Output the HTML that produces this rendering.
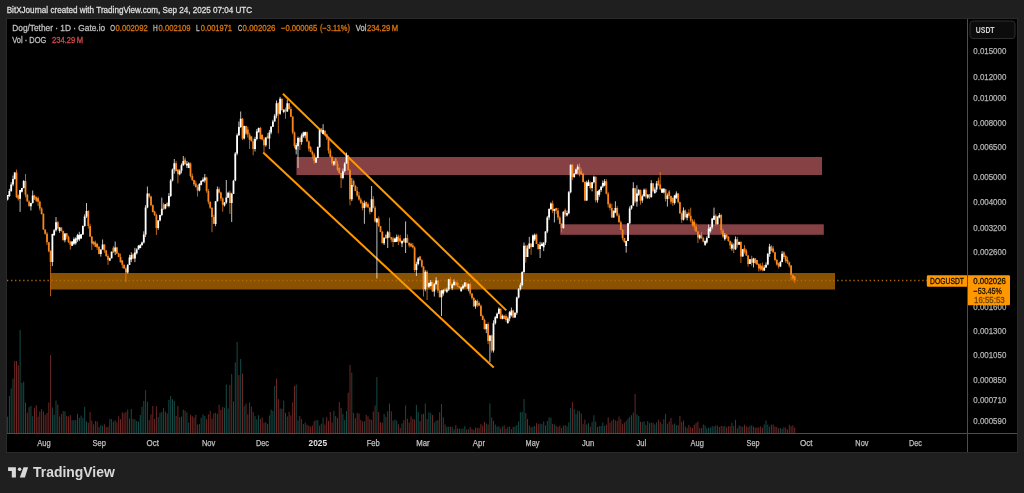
<!DOCTYPE html>
<html lang="en">
<head>
<meta charset="utf-8">
<title>DOGUSDT 1D chart - TradingView snapshot</title>
<style>
html,body{margin:0;padding:0;background:#1f1f1f;}
body{width:1024px;height:493px;overflow:hidden;position:relative;font-family:"Liberation Sans",sans-serif;color:#d8d8d8;}
.snapshot-header{position:absolute;left:0;top:0;width:1024px;height:19px;}
.snapshot-header svg{display:block}
.chart-frame{position:absolute;left:7px;top:19px;width:1010px;height:433px;background:#000;outline:1px solid #2a2a2a;}
.chart,.labels{display:block;position:absolute;left:0;top:0;}
.labels,.snapshot-header svg,.snapshot-footer svg{will-change:transform;}
.snapshot-footer{position:absolute;left:0;top:452px;width:1024px;height:41px;}
.snapshot-footer svg{display:block}
text{white-space:pre}
</style>
</head>
<body>
<header class="snapshot-header">
<svg width="1024" height="19" viewBox="0 0 1024 19"><text x="6.7" y="12.8" font-family="'Liberation Sans', sans-serif" font-size="8.4" fill="#dedede" stroke="#dedede" stroke-width="0.3" textLength="245.5" lengthAdjust="spacingAndGlyphs">BitXJournal created with TradingView.com, Sep 24, 2025 07:04 UTC</text></svg>
</header>
<main class="chart-frame">
<svg class="chart" width="1010" height="433" viewBox="7 19 1010 433">
<rect x="7" y="19" width="1010" height="433" fill="#000"/>
<g class="zones">
<rect x="296.5" y="157" width="525.5" height="18" fill="#854144"/>
<rect x="560.2" y="224.3" width="263.6" height="10.5" fill="#854144"/>
<rect x="51" y="273" width="784" height="16.5" fill="#8a5200"/>
</g>
<line x1="7" y1="280.5" x2="967" y2="280.5" stroke="#b06c05" stroke-width="1.3" stroke-dasharray="1.3 2.75"/>
<g class="volume" fill="none" stroke-width="1.0">
<path stroke="#164b47" d="M7.6 433V416.7M9.4 433V395.9M11.2 433V388.4M13 433V378.6M20.1 433V330M21.9 433V383M23.7 433V381.7M30.9 433V405.9M32.7 433V416.1M52.4 433V407.4M54.2 433V414.8M56 433V400.5M59.6 433V416.5M64.9 433V411.3M72.1 433V420.1M73.9 433V420.1M75.7 433V420.2M77.5 433V413.7M79.3 433V417.9M81.1 433V415.6M82.9 433V417.9M84.7 433V407M86.5 433V421.4M100.8 433V425M102.6 433V425.9M109.8 433V418.9M111.6 433V419.1M115.2 433V420.3M127.7 433V409.5M129.5 433V418.5M131.3 433V409M134.9 433V419.4M136.7 433V421M138.5 433V421.7M140.3 433V415M142 433V406.6M143.8 433V401M145.6 433V390M147.4 433V401.6M158.2 433V417.1M160 433V412.9M161.8 433V412.1M165.4 433V411.7M168.9 433V400M170.7 433V396M172.5 433V399.3M174.3 433V401M179.7 433V417.2M181.5 433V416.5M183.3 433V409.7M186.9 433V412.4M188.7 433V422.6M199.4 433V424.1M201.2 433V417.8M203 433V414.5M204.8 433V415.9M215.6 433V412.8M217.4 433V413.8M224.5 433V407.8M226.3 433V384.5M228.1 433V408.4M231.7 433V374M233.5 433V401.5M235.3 433V362.4M237.1 433V342M240.7 433V359M244.2 433V406.2M255 433V416.2M256.8 433V419.3M258.6 433V415.2M265.8 433V422.1M269.4 433V415.5M271.1 433V409.6M272.9 433V411M274.7 433V386M280.1 433V408.5M283.7 433V400.6M287.3 433V416.4M296.2 433V384.5M298 433V420.3M301.6 433V419.1M303.4 433V424M305.2 433V422.5M316 433V420.2M317.8 433V420.1M319.6 433V425.8M323.1 433V417.6M333.9 433V410.9M342.9 433V414.1M344.7 433V419.9M346.5 433V411.1M351.8 433V372.5M364.4 433V421.4M371.6 433V419.9M376.9 433V377M384.1 433V413.9M387.7 433V411.4M394.9 433V419.6M396.7 433V420.7M402 433V423.4M405.6 433V405.5M416.4 433V405M418.2 433V412.2M425.3 433V403.5M428.9 433V412.3M430.7 433V413.2M434.3 433V422.4M436.1 433V420.7M441.5 433V404M443.3 433V417.3M446.9 433V426.7M448.7 433V426.7M452.2 433V426.8M454 433V429.2M461.2 433V429M463 433V428.5M464.8 433V426.2M468.4 433V429.3M475.5 433V427.6M486.3 433V423.6M489.9 433V403.5M493.5 433V420.8M495.3 433V424.5M497.1 433V426.7M498.9 433V426.2M502.4 433V426.4M507.8 433V427.1M509.6 433V426.6M511.4 433V429.1M515 433V426.6M516.8 433V425.1M518.6 433V421.3M520.4 433V412.3M522.2 433V412.1M524 433V399M527.5 433V419M529.3 433V425.6M532.9 433V426.7M534.7 433V426.1M540.1 433V423.6M541.9 433V424.1M543.7 433V421.4M545.5 433V425.4M547.3 433V421M549.1 433V417.3M550.9 433V417.8M554.4 433V424.6M563.4 433V425.8M567 433V426.4M568.8 433V422.3M570.6 433V407.9M574.2 433V408.9M576 433V414M577.7 433V410.5M586.7 433V424.5M588.5 433V423.2M592.1 433V422.1M593.9 433V415.3M597.5 433V427M599.3 433V426.1M601.1 433V426M602.8 433V422.5M604.6 433V425.9M613.6 433V419.1M615.4 433V420.4M626.2 433V420.8M628 433V418.5M629.7 433V416.7M631.5 433V415.1M633.3 433V412.5M636.9 433V414.3M638.7 433V416.1M642.3 433V422.1M644.1 433V421.4M647.7 433V421M651.3 433V422.6M654.8 433V424.4M656.6 433V422.4M662 433V424.1M663.8 433V419.2M667.4 433V423.7M674.6 433V423.5M676.4 433V425.3M683.5 433V420.5M687.1 433V427.9M699.7 433V428.1M705.1 433V425.6M706.8 433V428.4M708.6 433V427.6M710.4 433V427.6M712.2 433V426.1M714 433V426.4M717.6 433V425.6M719.4 433V427M724.8 433V426.1M731.9 433V422.8M735.5 433V419.8M739.1 433V425.4M742.7 433V426.8M749.9 433V425.7M753.5 433V426.6M764.2 433V424.6M766 433V420.5M767.8 433V424.7M769.6 433V426.8M780.4 433V428.1M782.1 433V428.9"/>
<path stroke="#6d2826" d="M14.7 433V361M16.5 433V361M18.3 433V365.4M25.5 433V402.6M27.3 433V412.6M29.1 433V407.2M34.5 433V407.7M36.3 433V405.3M38.1 433V416.6M39.8 433V411.4M41.6 433V409.1M43.4 433V411.4M45.2 433V414.8M47 433V413M48.8 433V402.5M50.6 433V355M57.8 433V404.6M61.4 433V414.1M63.2 433V411.2M66.7 433V415.9M68.5 433V416.5M70.3 433V415.1M88.3 433V422.8M90.1 433V412.2M91.8 433V420.6M93.6 433V424.3M95.4 433V421.1M97.2 433V421.5M99 433V427.1M104.4 433V424.3M106.2 433V427.1M108 433V426.7M113.4 433V421.6M116.9 433V422.4M118.7 433V416.3M120.5 433V419.2M122.3 433V412.3M124.1 433V413.3M125.9 433V411.9M133.1 433V418.9M149.2 433V420.2M151 433V414.3M152.8 433V406M154.6 433V418.9M156.4 433V406.4M163.6 433V408M167.2 433V413.4M176.1 433V415.8M177.9 433V406M185.1 433V410.6M190.5 433V414.7M192.3 433V416.2M194 433V417.6M195.8 433V414.8M197.6 433V424.5M206.6 433V419.2M208.4 433V414.4M210.2 433V410.8M212 433V418.5M213.8 433V413.3M219.1 433V404.7M220.9 433V410M222.7 433V406.9M229.9 433V385.1M238.9 433V375M242.5 433V373.6M246 433V403.6M247.8 433V414.2M249.6 433V402.4M251.4 433V406.6M253.2 433V412M260.4 433V419M262.2 433V417.5M264 433V422.8M267.6 433V423.9M276.5 433V378.5M278.3 433V398.9M281.9 433V408.7M285.5 433V412.9M289.1 433V411.8M290.9 433V415.3M292.7 433V402.4M294.5 433V386M299.8 433V415.9M307 433V424.7M308.8 433V425.6M310.6 433V426.6M312.4 433V425.5M314.2 433V420.9M321.3 433V423.7M324.9 433V424.5M326.7 433V417.1M328.5 433V420.8M330.3 433V412M332.1 433V422.4M335.7 433V416M337.5 433V418M339.3 433V402M341.1 433V408.1M348.2 433V392.7M350 433V365M353.6 433V412.9M355.4 433V418.2M357.2 433V412.8M359 433V413.5M360.8 433V420M362.6 433V421.5M366.2 433V414.8M368 433V416.3M369.8 433V419M373.3 433V411.5M375.1 433V405.5M378.7 433V412M380.5 433V422.2M382.3 433V422.8M385.9 433V416.8M389.5 433V403.5M391.3 433V411.4M393.1 433V420.6M398.4 433V424.2M400.2 433V427.9M403.8 433V420.2M407.4 433V418.8M409.2 433V422.6M411 433V416.4M412.8 433V418.8M414.6 433V419.5M420 433V421.1M421.8 433V414.3M423.5 433V413.8M427.1 433V419M432.5 433V415M437.9 433V420.2M439.7 433V412.2M445.1 433V424.4M450.4 433V426.7M455.8 433V425M457.6 433V428.4M459.4 433V428.6M466.6 433V429.5M470.2 433V427M472 433V429M473.8 433V429.8M477.3 433V427.8M479.1 433V428.1M480.9 433V424.1M482.7 433V425.6M484.5 433V421.9M488.1 433V424.4M491.7 433V417.7M500.6 433V428.4M504.2 433V425.4M506 433V428.8M513.2 433V426.8M525.8 433V412.9M531.1 433V427.2M536.5 433V423.2M538.3 433V424.2M552.6 433V423.9M556.2 433V425.9M558 433V427M559.8 433V425.8M561.6 433V428.1M565.2 433V425.1M572.4 433V402M579.5 433V411.3M581.3 433V413.6M583.1 433V424.2M584.9 433V419.7M590.3 433V426.6M595.7 433V421.5M606.4 433V424.6M608.2 433V417.3M610 433V422.7M611.8 433V420.7M617.2 433V420.9M619 433V416.6M620.8 433V419.2M622.6 433V424.2M624.4 433V422.6M635.1 433V394M640.5 433V421.7M645.9 433V424.9M649.5 433V422.9M653.1 433V422.8M658.4 433V419.8M660.2 433V421.9M665.6 433V413.8M669.2 433V421.5M671 433V418M672.8 433V424.5M678.2 433V425.2M679.9 433V415.9M681.7 433V421.8M685.3 433V426.5M688.9 433V424.9M690.7 433V427.1M692.5 433V427.9M694.3 433V424.7M696.1 433V423M697.9 433V421.5M701.5 433V428M703.3 433V424.5M715.8 433V425.5M721.2 433V426.1M723 433V426.2M726.6 433V427.4M728.4 433V426.2M730.2 433V426.3M733.7 433V425.9M737.3 433V428.3M740.9 433V426.3M744.5 433V424.7M746.3 433V426.5M748.1 433V427.3M751.7 433V425.4M755.3 433V427.7M757 433V427.4M758.8 433V427.5M760.6 433V426.4M762.4 433V427.7M771.4 433V424.6M773.2 433V424.6M775 433V426.6M776.8 433V427M778.6 433V428.4M783.9 433V427.4M785.7 433V427.6M787.5 433V429.6M789.3 433V424.8M791.1 433V426.2M792.9 433V425.3M794.7 433V427.6"/>
</g>
<g class="trend" stroke="#ff9800" stroke-width="2" stroke-linecap="butt">
<line x1="282.9" y1="93.7" x2="506.3" y2="310.4"/>
<line x1="263.2" y1="152.5" x2="493.7" y2="367.6"/>
</g>
<g class="candles">
<path d="M16.5 169.6V198.1M18.3 194.4V200.5M25.5 174V197.3M27.3 193.8V201.5M29.1 200.3V206.4M34.5 194.8V200M36.3 196.4V202.1M38.1 196.5V205.9M39.8 200.5V210.6M41.6 207.2V214.6M43.4 213.4V229.9M45.2 229.5V234.8M47 232.1V245M48.8 242V252.3M50.6 250.2V296.3M57.8 221V229.6M61.4 227.5V231.7M63.2 230.6V240.4M66.7 233.2V239.2M68.5 235.7V243M70.3 240.8V249.7M88.3 210.2V228.5M90.1 223.7V237.1M91.8 236.4V250M93.6 241.4V245.3M95.4 240.7V247.1M97.2 242.9V249.9M99 246.4V254.4M104.4 244.3V252.9M106.2 249.9V257.1M108 254.2V264.9M113.4 246.1V252.7M116.9 246.8V254M118.7 252.6V257.2M120.5 253.6V262.5M122.3 260.2V268.2M124.1 264.7V268.6M125.9 267.3V282M133.1 253.1V259.2M149.2 193.4V198.4M151 195.8V206.3M152.8 204.5V212.5M154.6 210.7V216M156.4 213.6V235M163.6 202.8V209.4M167.2 202.1V206.7M176.1 160.9V171.2M177.9 169.3V183.4M185.1 157.4V164.7M190.5 162.5V177.5M192.3 173.5V180.9M194 179.9V186M195.8 180.7V187.7M197.6 185V196.6M206.6 176.8V192.7M208.4 189V204.3M210.2 201.6V209M212 207.4V232.2M213.8 214.6V223.9M219.1 187.2V193.5M220.9 191.6V201M222.7 197.3V211.7M229.9 190.7V214M242.5 118V140M246 125.8V135.1M247.8 126.7V137.6M249.6 132.8V149M251.4 136.1V141.4M253.2 138.7V155.3M260.4 126.8V139.5M262.2 134V140.3M264 137.3V152.6M267.6 133V138.5M278.3 102.1V133.4M281.9 98.6V110.7M285.5 107.5V118.8M289.1 103.2V109.7M290.9 106.5V116.7M292.7 116.5V134.3M294.5 131.4V148.3M299.8 137.3V150M307 131.6V141.6M308.8 140.3V151.4M310.6 145.9V152.4M312.4 150.5V158.4M314.2 153V163.7M321.3 128.3V132.1M324.9 130.4V135.2M326.7 133.5V140M328.5 136.6V153.6M330.3 148.3V157.6M332.1 155.7V165.4M335.7 157.9V165.6M337.5 160.9V171.3M339.3 167.3V173.9M341.1 173.1V188M348.2 155V170.6M350 168.9V205.3M353.6 179.5V187M355.4 184.8V191.2M357.2 186.9V197M359 192V200.6M360.8 197.6V204M362.6 201.3V210.3M366.2 201.5V207.6M368 202.7V207.6M369.8 207.4V214.3M373.3 196.2V208.4M375.1 206V222.6M378.7 216.4V227.2M380.5 225.8V232.2M382.3 230.9V243.3M385.9 234.2V238.8M389.5 217.7V237.8M391.3 236.9V242.2M393.1 236.7V247M398.4 234.7V245M400.2 234.9V242.7M403.8 238.7V242.7M407.4 234.4V242.8M409.2 242.6V247.4M411 242.7V246.8M412.8 243V248.5M414.6 246.2V272.3M420 255.9V260.7M421.8 259.1V267.7M423.5 266.1V296.5M427.1 270.5V300M432.5 282V291.7M437.9 280.2V292.9M439.7 289.1V297.3M445.1 287.8V291.6M450.4 277V285.4M455.8 281.4V285.5M457.6 281.9V287.2M459.4 286.1V288.4M466.6 282.4V287M470.2 282.5V295.6M472 293.3V299.7M473.8 297V307.1M477.3 299.4V307.1M479.1 301.4V306.3M480.9 304.5V316.4M482.7 314.8V320.1M484.5 318.6V329.4M488.1 322.3V344M491.7 334.6V352.6M500.6 308.5V319.1M504.2 315.2V319.1M506 314.2V321.9M513.2 309.8V317.9M525.8 244.8V262.6M531.1 243.4V254.8M536.5 233.6V244M538.3 243.8V249.1M552.6 200.7V212.9M556.2 207.7V213.9M558 208V219.9M559.8 215.7V224.3M561.6 223.6V232.4M565.2 208.5V216.8M572.4 163.8V179.9M579.5 163.4V176.4M581.3 168.6V174.8M583.1 172.9V182.5M584.9 181.2V201.2M590.3 181.5V189.6M595.7 176.5V202.4M606.4 179.1V194.4M608.2 192.1V207.5M610 202.6V210.3M611.8 203.7V217.7M617.2 206.2V216.5M619 213.3V222.5M620.8 220.7V230M622.6 229.1V240.4M624.4 238V242.9M635.1 187.8V203M640.5 189.5V204.7M645.9 188.3V198.5M649.5 194.2V199M653.1 183.3V192.2M658.4 177.6V186.2M660.2 172.1V190.2M665.6 188.9V201.6M669.2 190V199.1M671 195.7V204.2M672.8 197.3V205.8M678.2 193.3V203.4M679.9 201.7V213.4M681.7 212.3V222.8M685.3 209.5V218.3M688.9 209.2V217.8M690.7 207.6V222.5M692.5 218.9V226.6M694.3 219.5V230.6M696.1 223.2V231.9M697.9 231.1V243.1M701.5 232.2V238.8M703.3 236.8V242.4M715.8 214.2V225.7M721.2 214.1V233.8M723 228.7V237.8M726.6 233.8V238.7M728.4 235.9V241.7M730.2 240.5V249M733.7 243.2V253M737.3 236.9V247.6M740.9 241.2V263M744.5 245.1V253.5M746.3 248.9V255.9M748.1 254.9V266.6M751.7 255.7V265.7M755.3 258.2V264.1M757 260V264.9M758.8 263.2V271.5M760.6 263.3V270.6M762.4 262.5V271.3M771.4 245.1V251.4M773.2 246.2V253.1M775 251.8V261.4M776.8 258.8V265.6M778.6 262.6V268.4M783.9 251.3V258.9M785.7 254.8V262.9M787.5 256.7V264M789.3 261.6V267.5M791.1 265.1V280.3M792.9 274.7V280.3M794.7 276V283" stroke="#f6851b" stroke-width="0.75" fill="none"/>
<path d="M7.6 195V200.5M9.4 188.8V197M11.2 182.2V191.9M13 175.5V186.2M14.7 172.3V179.6M20.1 189.8V211.9M21.9 188.1V192.5M23.7 180V188.4M30.9 202.8V210.5M32.7 190.5V203.6M52.4 233.7V266.1M54.2 229V235.6M56 217V231.6M59.6 226.9V232.8M64.9 233.2V242.4M72.1 241.1V246M73.9 237.4V245.2M75.7 237.3V244.7M77.5 233.8V241.9M79.3 231.8V241.1M81.1 234.1V238.7M82.9 225.4V235M84.7 214.3V226.7M86.5 203V218M100.8 249.5V256.6M102.6 239.5V249.6M109.8 257.5V261.2M111.6 251.5V258.4M115.2 241.6V255.1M127.7 264.1V273.7M129.5 254.8V264.9M131.3 252.3V262.1M134.9 247.8V262.1M136.7 248.3V254.5M138.5 245V249.6M140.3 244V248.3M142 241.6V245.4M143.8 231.3V243.5M145.6 205.1V237.1M147.4 186.5V208.3M158.2 220V229.9M160 214.7V221.4M161.8 197.6V216.2M165.4 204V209.3M168.9 193.1V207.4M170.7 179V197M172.5 168.5V181.4M174.3 159V173.7M179.7 169.3V175.3M181.5 163.4V173.4M183.3 156V165.8M186.9 161V167.9M188.7 162V168.2M199.4 183.1V191.4M201.2 180.4V185.4M203 177.4V181.8M204.8 174V182.7M215.6 201.1V226.2M217.4 186.5V201.6M224.5 202.1V206.5M226.3 180V203.9M228.1 191.7V197.8M231.7 192.8V222M233.5 179.8V193.9M235.3 152.1V181.2M237.1 133.4V155.3M238.9 121.5V135.9M240.7 111.5V128M244.2 125.6V139.5M255 136.8V151.5M256.8 129.1V140.6M258.6 127.5V132.4M265.8 137.3V146.7M269.4 129.9V149M271.1 126.4V134.3M272.9 119.8V127.1M274.7 114V122.1M276.5 100.5V118.3M280.1 96.9V115M283.7 109.6V113.2M287.3 99.6V111.9M296.2 143.1V154.4M298 136.6V168M301.6 133.5V144.7M303.4 131.7V137.7M305.2 131.5V138.3M316 156.7V163M317.8 146.4V158.1M319.6 129.5V147.8M323.1 124.2V134.2M333.9 161V165.9M342.9 168.6V179.3M344.7 162.2V172.4M346.5 152.6V163.7M351.8 177.9V201.1M364.4 200.6V223.8M371.6 186V212.3M376.9 217.9V278.5M384.1 237.4V245M387.7 230.9V248M394.9 237.7V242.3M396.7 234.5V241.9M402 240.3V247.1M405.6 221.4V253M416.4 261.7V276M418.2 257.1V265.4M425.3 269.9V291.3M428.9 282.5V287.9M430.7 280V286.3M434.3 283V296.5M436.1 277.2V284.6M441.5 289.7V316M443.3 289.2V295.7M446.9 287.7V293.1M448.7 278.9V291.1M452.2 283.3V290.2M454 279.4V286.1M461.2 286.8V291.6M463 284.2V289.4M464.8 282.2V287.4M468.4 283.5V291.3M475.5 299.8V308.7M486.3 323.7V333.1M489.9 335.2V362M493.5 320.3V352.5M495.3 316V324.6M497.1 312.6V318.7M498.9 307.4V314.3M502.4 314.4V319.4M507.8 316.6V323.8M509.6 311V321.3M511.4 307.6V316.6M515 312.4V317.9M516.8 296.6V314.8M518.6 288.1V298.5M520.4 282.7V290.5M522.2 271.2V286.5M524 242.5V273.2M527.5 245.3V257.1M529.3 236.9V248.8M532.9 234.5V247.3M534.7 233.5V241M540.1 241.8V258M541.9 242.2V246.2M543.7 242.4V251.1M545.5 231.1V245M547.3 215.9V233.1M549.1 208.3V220M550.9 202.3V210M554.4 208.7V222.4M563.4 211.3V228.8M567 210.6V216.5M568.8 191V214.4M570.6 164.6V193.3M574.2 173V177.9M576 168.6V173.8M577.7 164.5V173.7M586.7 180.8V200.9M588.5 179.6V186M592.1 182.1V191.4M593.9 175.6V183.5M597.5 190.9V202.7M599.3 189V196.8M601.1 185.8V192.1M602.8 180.5V188M604.6 179V186.3M613.6 210.3V217.7M615.4 201.3V213.2M626.2 240.6V252.6M628 223V241.1M629.7 206.4V224.4M631.5 205.3V209.7M633.3 182.2V206.1M636.9 185.3V206.6M638.7 188.9V196M642.3 194.4V202.9M644.1 188.5V196.6M647.7 194V198.8M651.3 180.2V197.4M654.8 187.4V193.9M656.6 181.1V192.3M662 188.5V192.7M663.8 188.6V193.4M667.4 193.4V206.6M674.6 194.9V204.7M676.4 191.4V199M683.5 207.4V220.6M687.1 212.4V220.3M699.7 234.3V239.4M705.1 240.4V245.9M706.8 236.4V243.6M708.6 224.5V238.1M710.4 226.8V232.6M712.2 217.9V229.2M714 207.6V220.1M717.6 216.6V224.5M719.4 213V218.4M724.8 233.1V240.6M731.9 242.3V250.6M735.5 236.5V250M739.1 241.6V244.9M742.7 249V256.7M749.9 259.1V263.9M753.5 257.8V267.5M764.2 265.1V270.9M766 262.4V267.8M767.8 252.8V265.3M769.6 243.8V256.8M780.4 260.7V267.1M782.1 251.1V262.3" stroke="#ffffff" stroke-width="0.75" fill="none"/>
<path d="M15.6 172.5h1.8v24.3h-1.8zM17.4 195.4h1.8v3.3h-1.8zM24.6 181h1.8v13.8h-1.8zM26.4 194.8h1.8v6.7h-1.8zM28.2 201.5h1.8v4.7h-1.8zM33.6 195.5h1.8v2.9h-1.8zM35.4 197.2h1.8v3.5h-1.8zM37.2 198.2h1.8v3.5h-1.8zM38.9 201.7h1.8v6.7h-1.8zM40.7 208.5h1.8v5.4h-1.8zM42.5 213.8h1.8v15.7h-1.8zM44.3 229.5h1.8v4.3h-1.8zM46.1 233.8h1.8v8.4h-1.8zM47.9 242.3h1.8v8.9h-1.8zM49.7 251.1h1.8v10.9h-1.8zM56.9 222.3h1.8v6.1h-1.8zM60.5 227.5h1.8v3.4h-1.8zM62.3 231h1.8v9.3h-1.8zM65.8 233.2h1.8v3.6h-1.8zM67.6 236.8h1.8v5.1h-1.8zM69.4 241.7h1.8v2.9h-1.8zM87.4 211h1.8v15h-1.8zM89.2 226h1.8v10.6h-1.8zM90.9 236.5h1.8v7.1h-1.8zM92.7 241.5h1.8v2.7h-1.8zM94.5 242.5h1.8v4.3h-1.8zM96.3 244h1.8v3.4h-1.8zM98.1 246.8h1.8v7.2h-1.8zM103.5 244.6h1.8v5.9h-1.8zM105.3 250.5h1.8v5.4h-1.8zM107.1 255.9h1.8v3.9h-1.8zM112.5 247.8h1.8v4.6h-1.8zM116 247.6h1.8v6h-1.8zM117.8 253.4h1.8v3.6h-1.8zM119.6 257h1.8v5.3h-1.8zM121.4 260.6h1.8v4.2h-1.8zM123.2 264.8h1.8v3.7h-1.8zM125 268.6h1.8v3.9h-1.8zM132.2 254.2h1.8v4.2h-1.8zM148.3 193.6h1.8v3h-1.8zM150.1 196.6h1.8v8.6h-1.8zM151.9 205.3h1.8v6.8h-1.8zM153.7 211.5h1.8v3.4h-1.8zM155.5 214.9h1.8v13.1h-1.8zM162.7 204.5h1.8v4.9h-1.8zM166.3 203.1h1.8v3h-1.8zM175.2 163.2h1.8v8h-1.8zM177 169.6h1.8v4.7h-1.8zM184.2 159.5h1.8v4.8h-1.8zM189.6 163.6h1.8v12.3h-1.8zM191.4 175.9h1.8v4.1h-1.8zM193.1 180h1.8v4.2h-1.8zM194.9 183.4h1.8v3.7h-1.8zM196.7 187h1.8v3.5h-1.8zM205.7 177.4h1.8v13.6h-1.8zM207.5 191h1.8v10.7h-1.8zM209.3 201.7h1.8v6h-1.8zM211.1 207.8h1.8v9.2h-1.8zM212.9 217h1.8v6.8h-1.8zM218.2 189.3h1.8v3.1h-1.8zM220 192.4h1.8v6.2h-1.8zM221.8 198.5h1.8v6.3h-1.8zM229 192.7h1.8v10.3h-1.8zM241.6 118.8h1.8v19.8h-1.8zM245.1 126.1h1.8v7.5h-1.8zM246.9 129.6h1.8v5h-1.8zM248.7 134.7h1.8v5.1h-1.8zM250.5 136.6h1.8v4.6h-1.8zM252.3 141.2h1.8v7.7h-1.8zM259.5 127.9h1.8v11h-1.8zM261.3 135.1h1.8v4.3h-1.8zM263.1 139.5h1.8v5.8h-1.8zM266.7 135.7h1.8v2.7h-1.8zM277.4 103.3h1.8v10.5h-1.8zM281 98.7h1.8v11.4h-1.8zM284.6 109.5h1.8v2h-1.8zM288.2 103.3h1.8v5.8h-1.8zM290 109.1h1.8v7.6h-1.8zM291.8 116.6h1.8v16h-1.8zM293.6 132.6h1.8v13.3h-1.8zM298.9 137.7h1.8v4.3h-1.8zM306.1 132.3h1.8v9.2h-1.8zM307.9 141.5h1.8v7.1h-1.8zM309.7 147.2h1.8v4.9h-1.8zM311.5 152.1h1.8v2.3h-1.8zM313.3 154.4h1.8v6.3h-1.8zM320.4 128.6h1.8v2.3h-1.8zM324 130.8h1.8v3.5h-1.8zM325.8 134.3h1.8v3h-1.8zM327.6 137.3h1.8v13.2h-1.8zM329.4 150.5h1.8v6.4h-1.8zM331.2 156.9h1.8v6.3h-1.8zM334.8 158.6h1.8v5h-1.8zM336.6 163.7h1.8v6h-1.8zM338.4 167.9h1.8v5.2h-1.8zM340.2 173.1h1.8v4.8h-1.8zM347.3 155.6h1.8v14.6h-1.8zM349.1 170.2h1.8v29h-1.8zM352.7 180.9h1.8v4.9h-1.8zM354.5 185.9h1.8v5.1h-1.8zM356.3 190.9h1.8v4.5h-1.8zM358.1 195.5h1.8v3.9h-1.8zM359.9 199.4h1.8v3.3h-1.8zM361.7 202.8h1.8v5.2h-1.8zM365.3 202h1.8v4.6h-1.8zM367.1 204.3h1.8v3.2h-1.8zM368.9 207.4h1.8v4.3h-1.8zM372.4 199.2h1.8v8.5h-1.8zM374.2 207.7h1.8v13.8h-1.8zM377.8 218.5h1.8v7.6h-1.8zM379.6 226.1h1.8v6h-1.8zM381.4 232.1h1.8v11.2h-1.8zM385 234.9h1.8v3.4h-1.8zM388.6 232.3h1.8v4.9h-1.8zM390.4 237.2h1.8v2.2h-1.8zM392.2 238.5h1.8v3.5h-1.8zM397.5 236.2h1.8v4.6h-1.8zM399.3 238.3h1.8v3.5h-1.8zM402.9 238.7h1.8v3h-1.8zM406.5 238h1.8v4.8h-1.8zM408.3 242.8h1.8v2.8h-1.8zM410.1 243.7h1.8v2.9h-1.8zM411.9 245.2h1.8v2.3h-1.8zM413.7 247.5h1.8v22.4h-1.8zM419.1 256.4h1.8v3.8h-1.8zM420.9 260.2h1.8v6.4h-1.8zM422.6 266.6h1.8v22.6h-1.8zM426.2 271.7h1.8v15.1h-1.8zM431.6 282.1h1.8v9.5h-1.8zM437 280.6h1.8v10h-1.8zM438.8 290.6h1.8v6.7h-1.8zM444.2 288.9h1.8v2.3h-1.8zM449.5 279.2h1.8v6h-1.8zM454.9 281.8h1.8v3.4h-1.8zM456.7 282.9h1.8v3.6h-1.8zM458.5 286.1h1.8v2h-1.8zM465.7 282.5h1.8v3.9h-1.8zM469.3 284h1.8v9.4h-1.8zM471.1 293.4h1.8v4.5h-1.8zM472.9 297.9h1.8v8.4h-1.8zM476.4 300.8h1.8v4.2h-1.8zM478.2 303h1.8v2.7h-1.8zM480 305.7h1.8v10.4h-1.8zM481.8 315.9h1.8v4h-1.8zM483.6 319.9h1.8v9.4h-1.8zM487.2 323.9h1.8v17.2h-1.8zM490.8 335.4h1.8v15h-1.8zM499.7 308.7h1.8v10.1h-1.8zM503.3 315.7h1.8v3.3h-1.8zM505.1 315.9h1.8v4.2h-1.8zM512.3 310.5h1.8v7.1h-1.8zM524.9 245.8h1.8v11.2h-1.8zM530.2 243.6h1.8v3.4h-1.8zM535.6 234.7h1.8v9.3h-1.8zM537.4 244h1.8v5.2h-1.8zM551.7 203.4h1.8v7.4h-1.8zM555.3 207.9h1.8v2.5h-1.8zM557.1 210.4h1.8v7.2h-1.8zM558.9 217.6h1.8v6.2h-1.8zM560.7 223.6h1.8v4.4h-1.8zM564.3 209.9h1.8v4.7h-1.8zM571.5 164.7h1.8v12.2h-1.8zM578.6 166.7h1.8v7.2h-1.8zM580.4 171.4h1.8v3.1h-1.8zM582.2 173.8h1.8v8.3h-1.8zM584 182.1h1.8v18.4h-1.8zM589.4 182.9h1.8v5h-1.8zM594.8 176.8h1.8v23.4h-1.8zM605.5 181.2h1.8v12.5h-1.8zM607.3 193.7h1.8v10.5h-1.8zM609.1 204.2h1.8v3.9h-1.8zM610.9 208h1.8v9.4h-1.8zM616.3 208h1.8v7.6h-1.8zM618.1 215.6h1.8v6.7h-1.8zM619.9 222.3h1.8v7.4h-1.8zM621.7 229.7h1.8v8.3h-1.8zM623.5 238.1h1.8v4h-1.8zM634.2 188.3h1.8v13.2h-1.8zM639.6 190.1h1.8v10.6h-1.8zM645 189.8h1.8v6.6h-1.8zM648.6 194.2h1.8v3.1h-1.8zM652.2 183.3h1.8v7.5h-1.8zM657.5 180.4h1.8v4.7h-1.8zM659.3 184.4h1.8v4.9h-1.8zM664.7 189.2h1.8v9.6h-1.8zM668.3 191.6h1.8v4.5h-1.8zM670.1 196.1h1.8v5.7h-1.8zM671.9 198h1.8v4.8h-1.8zM677.3 193.4h1.8v8.8h-1.8zM679 202.2h1.8v11.2h-1.8zM680.8 213.4h1.8v6.4h-1.8zM684.4 210.5h1.8v6.4h-1.8zM688 212.7h1.8v3.1h-1.8zM689.8 215.8h1.8v5h-1.8zM691.6 220.8h1.8v4.3h-1.8zM693.4 221.7h1.8v5h-1.8zM695.2 226.6h1.8v4.9h-1.8zM697 231.6h1.8v5.9h-1.8zM700.6 234.9h1.8v3.4h-1.8zM702.4 238.3h1.8v3.4h-1.8zM714.9 215.7h1.8v8.6h-1.8zM720.3 214.9h1.8v15.4h-1.8zM722.1 230.4h1.8v6h-1.8zM725.7 234.7h1.8v2.5h-1.8zM727.5 236.7h1.8v4.4h-1.8zM729.3 241.1h1.8v4.4h-1.8zM732.8 244.4h1.8v4.9h-1.8zM736.4 239.2h1.8v5.5h-1.8zM740 242h1.8v14.6h-1.8zM743.6 248.3h1.8v3.1h-1.8zM745.4 250.5h1.8v5.1h-1.8zM747.2 255.6h1.8v8.3h-1.8zM750.8 258.7h1.8v4.1h-1.8zM754.4 258.4h1.8v4.5h-1.8zM756.1 260.1h1.8v4.3h-1.8zM757.9 264h1.8v4.4h-1.8zM759.7 265.2h1.8v4.3h-1.8zM761.5 266.1h1.8v4.2h-1.8zM770.5 246.5h1.8v4.3h-1.8zM772.3 248.5h1.8v3.8h-1.8zM774.1 252.2h1.8v7.7h-1.8zM775.9 259.9h1.8v4.5h-1.8zM777.7 263.5h1.8v3.1h-1.8zM783 252.4h1.8v4.6h-1.8zM784.8 255.9h1.8v5.1h-1.8zM786.6 259.7h1.8v2.8h-1.8zM788.4 262.5h1.8v3.1h-1.8zM790.2 265.6h1.8v9.2h-1.8zM792 274.8h1.8v3.8h-1.8zM793.8 276.5h1.8v3.8h-1.8z" fill="#f6851b"/>
<path d="M6.7 195h1.8v4.6h-1.8zM8.5 191h1.8v4.9h-1.8zM10.3 184.5h1.8v6.5h-1.8zM12.1 178.9h1.8v5.6h-1.8zM13.8 172.5h1.8v6.4h-1.8zM19.2 189.9h1.8v8.9h-1.8zM21 188.1h1.8v3.6h-1.8zM22.8 181h1.8v7.1h-1.8zM30 203h1.8v3.2h-1.8zM31.8 195.5h1.8v7.5h-1.8zM51.5 234h1.8v28h-1.8zM53.3 230.2h1.8v5.1h-1.8zM55.1 222.3h1.8v7.9h-1.8zM58.7 227.5h1.8v3.5h-1.8zM64 233.4h1.8v6.9h-1.8zM71.2 241.4h1.8v4.3h-1.8zM73 239.2h1.8v4.6h-1.8zM74.8 238.6h1.8v4.6h-1.8zM76.6 235.3h1.8v4.1h-1.8zM78.4 234.8h1.8v4.6h-1.8zM80.2 234.2h1.8v4.2h-1.8zM82 225.9h1.8v8.5h-1.8zM83.8 216.4h1.8v9.6h-1.8zM85.6 211h1.8v5.4h-1.8zM99.9 249.5h1.8v4.4h-1.8zM101.7 244.6h1.8v4.9h-1.8zM108.9 258.3h1.8v2.2h-1.8zM110.7 251.8h1.8v6.5h-1.8zM114.3 247.6h1.8v3.8h-1.8zM126.8 264.9h1.8v7.6h-1.8zM128.6 257.5h1.8v7.4h-1.8zM130.4 254.9h1.8v4.7h-1.8zM134 252.4h1.8v6.1h-1.8zM135.8 249.4h1.8v3.8h-1.8zM137.6 245.7h1.8v3.7h-1.8zM139.4 245.1h1.8v2.8h-1.8zM141.1 242.6h1.8v2.7h-1.8zM142.9 234.5h1.8v8h-1.8zM144.7 207.5h1.8v27h-1.8zM146.5 193.6h1.8v13.9h-1.8zM157.3 220.6h1.8v7.4h-1.8zM159.1 215.1h1.8v5.5h-1.8zM160.9 208.8h1.8v6.3h-1.8zM164.5 204.3h1.8v4.3h-1.8zM168 196.1h1.8v9.9h-1.8zM169.8 180.4h1.8v15.7h-1.8zM171.6 169.6h1.8v10.8h-1.8zM173.4 163.2h1.8v6.4h-1.8zM178.8 170.7h1.8v3.6h-1.8zM180.6 165.3h1.8v5.4h-1.8zM182.4 161.1h1.8v4.2h-1.8zM186 163.8h1.8v1.8h-1.8zM187.8 163.2h1.8v4.7h-1.8zM198.5 183.9h1.8v6.6h-1.8zM200.3 180.7h1.8v4h-1.8zM202.1 179.4h1.8v2h-1.8zM203.9 177.4h1.8v3.1h-1.8zM214.7 201.2h1.8v22.7h-1.8zM216.5 189.3h1.8v11.9h-1.8zM223.6 202.6h1.8v2.9h-1.8zM225.4 197.5h1.8v5.1h-1.8zM227.2 192.7h1.8v5h-1.8zM230.8 193.8h1.8v9.2h-1.8zM232.6 180.7h1.8v13.1h-1.8zM234.4 153.5h1.8v27.1h-1.8zM236.2 135.3h1.8v18.2h-1.8zM238 127h1.8v8.3h-1.8zM239.8 118.8h1.8v8.2h-1.8zM243.3 126.1h1.8v12.5h-1.8zM254.1 139h1.8v9.9h-1.8zM255.9 131.6h1.8v7.4h-1.8zM257.7 127.9h1.8v4.4h-1.8zM264.9 137.6h1.8v7.7h-1.8zM268.5 132.5h1.8v5.9h-1.8zM270.2 126.6h1.8v5.9h-1.8zM272 121.4h1.8v5.3h-1.8zM273.8 115.7h1.8v5.6h-1.8zM275.6 103.3h1.8v12.4h-1.8zM279.2 98.7h1.8v15h-1.8zM282.8 109.6h1.8v2.5h-1.8zM286.4 103.3h1.8v8.2h-1.8zM295.3 145.3h1.8v4.1h-1.8zM297.1 138h1.8v8.2h-1.8zM300.7 135.4h1.8v6.6h-1.8zM302.5 132.5h1.8v3.8h-1.8zM304.3 131.9h1.8v3.5h-1.8zM315.1 157.9h1.8v4.7h-1.8zM316.9 147.1h1.8v10.8h-1.8zM318.7 130.3h1.8v16.8h-1.8zM322.2 130h1.8v4h-1.8zM333 161.3h1.8v3.2h-1.8zM342 171.2h1.8v6.7h-1.8zM343.8 163.5h1.8v7.6h-1.8zM345.6 155.6h1.8v7.9h-1.8zM350.9 185h1.8v14.2h-1.8zM363.5 203.2h1.8v4.8h-1.8zM370.7 199.2h1.8v12.5h-1.8zM376 218.5h1.8v3.9h-1.8zM383.2 237.7h1.8v5.5h-1.8zM386.8 232.3h1.8v5.6h-1.8zM394 238.5h1.8v3.5h-1.8zM395.8 237.1h1.8v4.7h-1.8zM401.1 241.1h1.8v2.4h-1.8zM404.7 238h1.8v4.8h-1.8zM415.5 263.9h1.8v6h-1.8zM417.3 258.5h1.8v5.4h-1.8zM424.4 271.7h1.8v17.5h-1.8zM428 283h1.8v3.8h-1.8zM429.8 282.1h1.8v4h-1.8zM433.4 284.3h1.8v7.3h-1.8zM435.2 280.6h1.8v3.7h-1.8zM440.6 290.4h1.8v6.9h-1.8zM442.4 289.8h1.8v3.8h-1.8zM446 289.5h1.8v2.3h-1.8zM447.8 279.2h1.8v10.3h-1.8zM451.3 284.6h1.8v3.7h-1.8zM453.1 281.8h1.8v3.3h-1.8zM460.3 287.6h1.8v3.7h-1.8zM462.1 285.7h1.8v2.5h-1.8zM463.9 282.5h1.8v4h-1.8zM467.5 284h1.8v4.8h-1.8zM474.6 301.1h1.8v5.2h-1.8zM485.4 323.9h1.8v5.4h-1.8zM489 335.4h1.8v5.7h-1.8zM492.6 323.3h1.8v27.1h-1.8zM494.4 317.2h1.8v6.1h-1.8zM496.2 313.8h1.8v4.3h-1.8zM498 308.7h1.8v5.1h-1.8zM501.5 315.7h1.8v3.1h-1.8zM506.9 318.6h1.8v4.3h-1.8zM508.7 312.2h1.8v6.4h-1.8zM510.5 310.5h1.8v4.8h-1.8zM514.1 312.7h1.8v4.9h-1.8zM515.9 297.5h1.8v15.2h-1.8zM517.7 289h1.8v8.5h-1.8zM519.5 284.9h1.8v4h-1.8zM521.3 271.9h1.8v13h-1.8zM523.1 245.8h1.8v26.1h-1.8zM526.6 248.5h1.8v8.5h-1.8zM528.4 243.6h1.8v4.9h-1.8zM532 235.6h1.8v11.4h-1.8zM533.8 234.7h1.8v4.7h-1.8zM539.2 244.7h1.8v4.4h-1.8zM541 243.7h1.8v2.4h-1.8zM542.8 242.6h1.8v4.6h-1.8zM544.6 231.6h1.8v11h-1.8zM546.4 217.6h1.8v14h-1.8zM548.2 208.9h1.8v8.7h-1.8zM550 203.4h1.8v5.5h-1.8zM553.5 209h1.8v2.1h-1.8zM562.5 211.7h1.8v16.3h-1.8zM566.1 213.1h1.8v2.4h-1.8zM567.9 192.3h1.8v20.9h-1.8zM569.7 164.7h1.8v27.6h-1.8zM573.3 173.7h1.8v3.2h-1.8zM575.1 169.5h1.8v4.2h-1.8zM576.8 166.7h1.8v2.9h-1.8zM585.8 182.4h1.8v18.1h-1.8zM587.6 181.8h1.8v4.2h-1.8zM591.2 182.3h1.8v5.6h-1.8zM593 176.8h1.8v5.5h-1.8zM596.6 191.3h1.8v8.9h-1.8zM598.4 190h1.8v4.7h-1.8zM600.2 186.7h1.8v3.4h-1.8zM601.9 182.9h1.8v3.7h-1.8zM603.7 181.2h1.8v4.2h-1.8zM612.7 211.2h1.8v6.2h-1.8zM614.5 208h1.8v4.5h-1.8zM625.3 240.9h1.8v5.1h-1.8zM627.1 223.2h1.8v17.7h-1.8zM628.8 208.6h1.8v14.6h-1.8zM630.6 205.4h1.8v3.2h-1.8zM632.4 188.3h1.8v17.1h-1.8zM636 193.4h1.8v8.1h-1.8zM637.8 190.1h1.8v4.6h-1.8zM641.4 196.3h1.8v4.3h-1.8zM643.2 189.8h1.8v6.5h-1.8zM646.8 194.8h1.8v3h-1.8zM650.4 183.3h1.8v14h-1.8zM653.9 189.5h1.8v3.4h-1.8zM655.7 183.5h1.8v6h-1.8zM661.1 188.7h1.8v4h-1.8zM662.9 188.6h1.8v4h-1.8zM666.5 195.4h1.8v3.5h-1.8zM673.7 195.6h1.8v7.3h-1.8zM675.5 193.4h1.8v4.3h-1.8zM682.6 210.5h1.8v9.3h-1.8zM686.2 214h1.8v3.7h-1.8zM698.8 235.3h1.8v3h-1.8zM704.2 241h1.8v3.7h-1.8zM705.9 237.9h1.8v4.6h-1.8zM707.7 228.8h1.8v9.1h-1.8zM709.5 227.2h1.8v4h-1.8zM711.3 218.5h1.8v8.7h-1.8zM713.1 215.7h1.8v4h-1.8zM716.7 216.6h1.8v7.7h-1.8zM718.5 214.9h1.8v2.4h-1.8zM723.9 235.1h1.8v4.2h-1.8zM731 244.4h1.8v4h-1.8zM734.6 239.2h1.8v10.1h-1.8zM738.2 242h1.8v2.7h-1.8zM741.8 249.2h1.8v7.4h-1.8zM749 259.3h1.8v4.6h-1.8zM752.6 258.4h1.8v4.4h-1.8zM763.3 267.6h1.8v2.8h-1.8zM765.1 264.7h1.8v2.9h-1.8zM766.9 254h1.8v10.6h-1.8zM768.7 246.5h1.8v7.5h-1.8zM779.5 261.9h1.8v4.7h-1.8zM781.2 253.8h1.8v8.1h-1.8z" fill="#ffffff"/>
</g>
<g class="axes" stroke="#784600" stroke-width="1">
<line x1="7" y1="433.5" x2="1017" y2="433.5"/>
<line x1="967.5" y1="19" x2="967.5" y2="452"/>
</g>
</svg>
<svg class="labels" width="1010" height="433" viewBox="7 19 1010 433">
<g class="price-scale" font-family="'Liberation Sans', sans-serif" font-size="8.7" fill="#b4b4b4" stroke="#b4b4b4" stroke-width="0.25">
<text x="973.3" y="54.3" textLength="33" lengthAdjust="spacingAndGlyphs">0.015000</text>
<text x="973.3" y="79.8" textLength="33" lengthAdjust="spacingAndGlyphs">0.012000</text>
<text x="973.3" y="100.7" textLength="33" lengthAdjust="spacingAndGlyphs">0.010000</text>
<text x="973.3" y="126.2" textLength="33" lengthAdjust="spacingAndGlyphs">0.008000</text>
<text x="973.3" y="149.9" textLength="33" lengthAdjust="spacingAndGlyphs">0.006500</text>
<text x="973.3" y="179.9" textLength="33" lengthAdjust="spacingAndGlyphs">0.005000</text>
<text x="973.3" y="205.4" textLength="33" lengthAdjust="spacingAndGlyphs">0.004000</text>
<text x="973.3" y="231" textLength="33" lengthAdjust="spacingAndGlyphs">0.003200</text>
<text x="973.3" y="254.7" textLength="33" lengthAdjust="spacingAndGlyphs">0.002600</text>
<text x="973.3" y="310.2" textLength="33" lengthAdjust="spacingAndGlyphs">0.001600</text>
<text x="973.3" y="334" textLength="33" lengthAdjust="spacingAndGlyphs">0.001300</text>
<text x="973.3" y="358.4" textLength="33" lengthAdjust="spacingAndGlyphs">0.001050</text>
<text x="973.3" y="382.5" textLength="33" lengthAdjust="spacingAndGlyphs">0.000850</text>
<text x="973.3" y="403.1" textLength="33" lengthAdjust="spacingAndGlyphs">0.000710</text>
<text x="973.3" y="424.3" textLength="33" lengthAdjust="spacingAndGlyphs">0.000590</text>
</g>
<g class="time-scale" font-family="'Liberation Sans', sans-serif" font-size="8.7" fill="#c0c0c0" stroke="#c0c0c0" stroke-width="0.25" text-anchor="middle">
<text x="43.9" y="445.8" textLength="13.4" lengthAdjust="spacingAndGlyphs">Aug</text>
<text x="99.2" y="445.8" textLength="13.4" lengthAdjust="spacingAndGlyphs">Sep</text>
<text x="152.8" y="445.8" textLength="12.4" lengthAdjust="spacingAndGlyphs">Oct</text>
<text x="208.6" y="445.8" textLength="13.4" lengthAdjust="spacingAndGlyphs">Nov</text>
<text x="262.5" y="445.8" textLength="13.1" lengthAdjust="spacingAndGlyphs">Dec</text>
<text x="317.8" y="445.8" font-weight="bold" fill="#e0e0e0" stroke="none" textLength="18.5" lengthAdjust="spacingAndGlyphs">2025</text>
<text x="373.2" y="445.8" textLength="13.1" lengthAdjust="spacingAndGlyphs">Feb</text>
<text x="423" y="445.8" textLength="13.4" lengthAdjust="spacingAndGlyphs">Mar</text>
<text x="478.9" y="445.8" textLength="12.2" lengthAdjust="spacingAndGlyphs">Apr</text>
<text x="532.5" y="445.8" textLength="13.8" lengthAdjust="spacingAndGlyphs">May</text>
<text x="588" y="445.8" textLength="12.2" lengthAdjust="spacingAndGlyphs">Jun</text>
<text x="641.4" y="445.8" textLength="9.7" lengthAdjust="spacingAndGlyphs">Jul</text>
<text x="697.2" y="445.8" textLength="13.2" lengthAdjust="spacingAndGlyphs">Aug</text>
<text x="753" y="445.8" textLength="12.8" lengthAdjust="spacingAndGlyphs">Sep</text>
<text x="806.3" y="445.8" textLength="12.5" lengthAdjust="spacingAndGlyphs">Oct</text>
<text x="861.9" y="445.8" textLength="13.1" lengthAdjust="spacingAndGlyphs">Nov</text>
<text x="915.5" y="445.8" textLength="12.8" lengthAdjust="spacingAndGlyphs">Dec</text>
</g>
<g class="currency">
<rect x="970" y="21" width="45" height="17.5" rx="3" fill="#0c0c0c" stroke="#2c2c2c" stroke-width="1"/>
<text x="975.8" y="33.2" font-family="'Liberation Sans', sans-serif" font-size="8.6" font-weight="bold" fill="#d6d6d6" textLength="18.8" lengthAdjust="spacingAndGlyphs">USDT</text>
</g>
<g class="last-price" font-family="'Liberation Sans', sans-serif" font-size="8.5" stroke-width="0.3">
<path d="M928 275.2H967V286.7H928a1.2 1.2 0 0 1-1.2-1.2V276.4a1.2 1.2 0 0 1 1.2-1.2z" fill="#ff9800"/>
<path d="M968 275.2H1008.8a1.2 1.2 0 0 1 1.2 1.2V304a1.2 1.2 0 0 1-1.2 1.2H968z" fill="#ff9800"/>
<text x="930.1" y="284" fill="#1c1000" stroke="#1c1000" textLength="33.8" lengthAdjust="spacingAndGlyphs">DOGUSDT</text>
<text x="973.3" y="284" fill="#1c1000" stroke="#1c1000" textLength="32.6" lengthAdjust="spacingAndGlyphs">0.002026</text>
<text x="973.5" y="293.9" fill="#1c1000" stroke="#1c1000" textLength="28.4" lengthAdjust="spacingAndGlyphs">−53.45%</text>
<text x="974" y="302.9" fill="#704400" stroke="#704400" textLength="30.7" lengthAdjust="spacingAndGlyphs">16:55:53</text>
</g>
<g class="legend" font-family="'Liberation Sans', sans-serif" font-size="8.3" stroke-width="0.3">
<text x="12.3" y="31.2" fill="#bdbdbd" stroke="#bdbdbd" textLength="92.8" lengthAdjust="spacingAndGlyphs">Dog/Tether · 1D · Gate.io</text>
<text x="110.2" y="31.2" fill="#bdbdbd" stroke="#bdbdbd" textLength="4.8" lengthAdjust="spacingAndGlyphs">O</text>
<text x="115.6" y="31.2" fill="#d9750f" stroke="#d9750f" textLength="32.1" lengthAdjust="spacingAndGlyphs">0.002092</text>
<text x="153.1" y="31.2" fill="#bdbdbd" stroke="#bdbdbd" textLength="4.7" lengthAdjust="spacingAndGlyphs">H</text>
<text x="158.6" y="31.2" fill="#d9750f" stroke="#d9750f" textLength="32" lengthAdjust="spacingAndGlyphs">0.002109</text>
<text x="196.1" y="31.2" fill="#bdbdbd" stroke="#bdbdbd" textLength="3.6" lengthAdjust="spacingAndGlyphs">L</text>
<text x="200.8" y="31.2" fill="#d9750f" stroke="#d9750f" textLength="31.2" lengthAdjust="spacingAndGlyphs">0.001971</text>
<text x="238" y="31.2" fill="#bdbdbd" stroke="#bdbdbd" textLength="4.2" lengthAdjust="spacingAndGlyphs">C</text>
<text x="242.6" y="31.2" fill="#d9750f" stroke="#d9750f" textLength="32.8" lengthAdjust="spacingAndGlyphs">0.002026</text>
<text x="281.1" y="31.2" fill="#d9750f" stroke="#d9750f" textLength="36.1" lengthAdjust="spacingAndGlyphs">−0.000065</text>
<text x="320" y="31.2" fill="#d9750f" stroke="#d9750f" textLength="30" lengthAdjust="spacingAndGlyphs">(−3.11%)</text>
<text x="355.8" y="31.2" fill="#bdbdbd" stroke="#bdbdbd" textLength="10.6" lengthAdjust="spacingAndGlyphs">Vol</text>
<text x="366.9" y="31.2" fill="#d9750f" stroke="#d9750f" textLength="31.2" lengthAdjust="spacingAndGlyphs">234.29 M</text>
<text x="12.3" y="42.6" fill="#bdbdbd" stroke="#bdbdbd" textLength="34" lengthAdjust="spacingAndGlyphs">Vol · DOG</text>
<text x="52" y="42.6" fill="#d04a4a" stroke="#d04a4a" textLength="31.2" lengthAdjust="spacingAndGlyphs">234.29 M</text>
</g>
</svg>
</main>
<footer class="snapshot-footer">
<svg width="1024" height="41" viewBox="0 452 1024 41">
<g class="tv-logo" fill="#d9d9d9">
<path d="M8.1 467.2H15.9V477.4H11.8V470.9H8.1z"/>
<circle cx="19.6" cy="469.2" r="1.75"/>
<path d="M23.5 467.2H28.1L24.9 477.4H19.8z"/>
</g>
<text x="33" y="477.4" font-family="'Liberation Sans', sans-serif" font-size="14.4" font-weight="bold" fill="#d9d9d9" textLength="81.8" lengthAdjust="spacingAndGlyphs">TradingView</text>
</svg>
</footer>
</body>
</html>
